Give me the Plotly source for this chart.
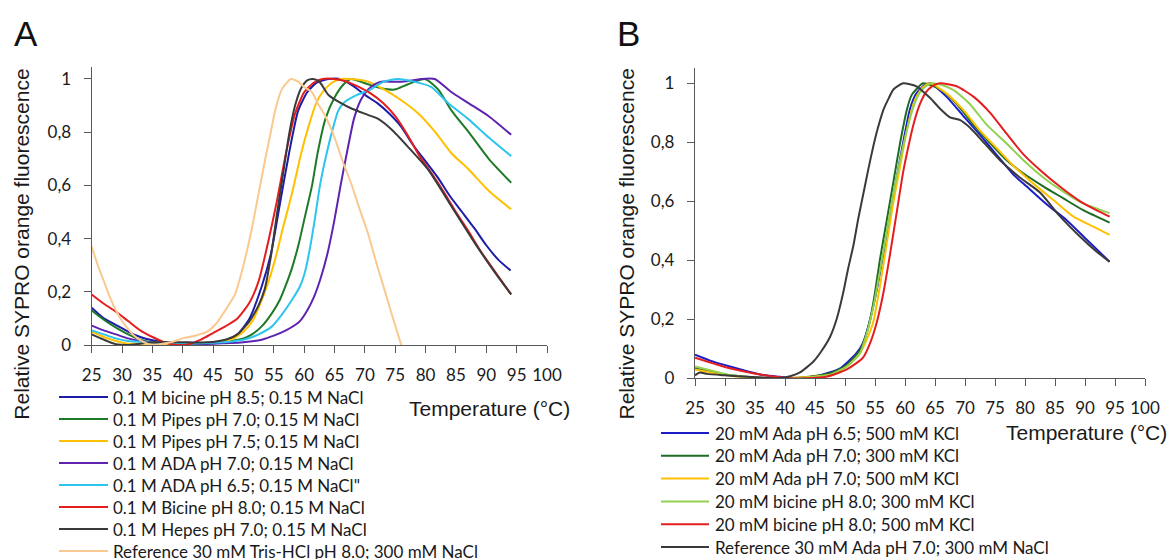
import plotly.graph_objects as go

# ---------------- Panel A data ----------------
a_names = [
    "0.1 M bicine pH 8.5; 0.15 M NaCl",
    "0.1 M Pipes pH 7.0; 0.15 M NaCl",
    "0.1 M Pipes pH 7.5; 0.15 M NaCl",
    "0.1 M ADA pH 7.0; 0.15 M NaCl",
    "0.1 M ADA pH 6.5; 0.15 M NaCl\"",
    "0.1 M Bicine pH 8.0; 0.15 M NaCl",
    "0.1 M Hepes pH 7.0; 0.15 M NaCl",
    "Reference 30 mM Tris-HCl pH 8.0; 300 mM NaCl",
]
a_colors = ["#1C1CA8", "#1D7A26", "#FFC000", "#5E24B0", "#2CC5EE", "#E41E1E", "#3A3A3A", "#F9C98F"]

a_bicine85_t = [25, 27, 29, 31, 33, 35, 38, 41, 44, 47, 49, 51, 53, 54.5, 56, 57.5, 59, 60.5, 62, 64, 66, 68, 70, 72, 74, 76, 78, 80, 82, 84, 86, 88, 90, 92, 94]
a_bicine85_v = [0.14, 0.10, 0.075, 0.05, 0.03, 0.018, 0.008, 0.005, 0.005, 0.015, 0.04, 0.10, 0.22, 0.34, 0.53, 0.72, 0.88, 0.95, 0.985, 1.0, 1.0, 0.975, 0.94, 0.91, 0.87, 0.82, 0.75, 0.69, 0.63, 0.56, 0.50, 0.44, 0.375, 0.32, 0.28]

a_pipes70_t = [25, 27, 29, 31, 33, 35, 38, 42, 46, 50, 51.4, 53, 54.7, 56, 56.9, 58, 59.1, 60.2, 61.3, 62.2, 63.5, 65, 66.5, 67.7, 70.5, 72.7, 74.9, 77.1, 79.9, 82.1, 84.3, 87.1, 90.4, 94.1]
a_pipes70_v = [0.13, 0.095, 0.065, 0.04, 0.02, 0.01, 0.005, 0.005, 0.01, 0.025, 0.04, 0.07, 0.12, 0.17, 0.22, 0.29, 0.38, 0.49, 0.60, 0.72, 0.85, 0.93, 0.98, 1.0, 0.98, 0.965, 0.96, 0.98, 1.0, 0.96, 0.88, 0.80, 0.70, 0.61]

a_pipes75_t = [25, 27, 29, 31, 35, 40, 45, 48, 50, 51.5, 52.5, 54, 55.2, 56.5, 58, 59.5, 60.7, 62, 63, 64.5, 66, 67.7, 70.5, 73.2, 76, 78.8, 81.6, 84.3, 87.1, 90.4, 94.1]
a_pipes75_v = [0.05, 0.03, 0.015, 0.005, 0.005, 0.005, 0.01, 0.02, 0.05, 0.09, 0.14, 0.23, 0.32, 0.44, 0.57, 0.72, 0.82, 0.91, 0.95, 0.985, 1.0, 1.0, 0.99, 0.96, 0.92, 0.87, 0.80, 0.72, 0.66, 0.58, 0.51]

a_ada70_t = [25, 27, 29, 31, 33, 35, 40, 45, 50, 53, 55, 57, 58.5, 59.3, 60.5, 61.6, 62.7, 63.8, 64.9, 66, 67.1, 68.2, 69.3, 70.5, 71.6, 72.7, 74, 76, 78, 79.3, 81.5, 84.3, 87, 90.4, 94.1]
a_ada70_v = [0.073, 0.055, 0.04, 0.025, 0.015, 0.01, 0.005, 0.005, 0.01, 0.02, 0.035, 0.055, 0.075, 0.09, 0.13, 0.18, 0.25, 0.34, 0.46, 0.60, 0.73, 0.85, 0.92, 0.96, 0.98, 0.99, 0.99, 0.99, 0.995, 1.0, 1.0, 0.95, 0.91, 0.86, 0.79]

a_ada65_t = [25, 27, 29, 31, 35, 40, 45, 50, 52.5, 54.7, 56.5, 58, 59.3, 60.2, 61, 61.8, 62.6, 63.7, 64.8, 65.6, 66.5, 68.7, 70.9, 73.1, 75.4, 78.1, 80.9, 83.7, 87, 90.4, 94.1]
a_ada65_v = [0.055, 0.04, 0.025, 0.015, 0.01, 0.005, 0.008, 0.02, 0.04, 0.07, 0.12, 0.17, 0.22, 0.28, 0.37, 0.48, 0.60, 0.72, 0.82, 0.88, 0.91, 0.94, 0.96, 0.99, 1.0, 0.99, 0.97, 0.91, 0.85, 0.78, 0.71]

a_bicine80_t = [25, 27, 29, 31, 33, 35, 37, 39, 41, 43, 45, 47, 49, 51, 52.5, 54, 55.5, 57, 58.5, 60, 61.5, 63, 65, 67, 69, 71, 73, 75, 77, 79, 81, 83, 85, 87, 89, 91, 93, 94.1]
a_bicine80_v = [0.19, 0.155, 0.125, 0.09, 0.055, 0.03, 0.01, 0.0, 0.003, 0.02, 0.045, 0.07, 0.10, 0.16, 0.24, 0.38, 0.54, 0.72, 0.87, 0.95, 0.985, 1.0, 1.0, 0.99, 0.97, 0.945, 0.91, 0.86, 0.79, 0.71, 0.645, 0.575, 0.50, 0.43, 0.355, 0.29, 0.225, 0.19]

a_hepes70_t = [25, 27, 29, 31, 33, 35, 38, 41, 44, 47, 49, 51, 52.5, 53.5, 54.5, 55.5, 56.5, 57.5, 58.5, 59.5, 60.5, 61.5, 62.5, 64, 66, 67.7, 70.5, 72.2, 74.4, 77.1, 80.4, 84.3, 88.2, 91.5, 94.1]
a_hepes70_v = [0.04, 0.02, 0.003, 0.0, 0.005, 0.01, 0.01, 0.01, 0.01, 0.02, 0.04, 0.09, 0.15, 0.21, 0.33, 0.49, 0.64, 0.79, 0.90, 0.965, 0.995, 1.0, 0.99, 0.94, 0.91, 0.89, 0.865, 0.85, 0.81, 0.745, 0.66, 0.52, 0.38, 0.27, 0.19]

a_ref_t = [25, 26, 27, 28, 29, 30, 31, 32, 33, 34, 35, 36, 38, 40, 42, 44, 45.5, 47, 48.6, 50, 51.4, 52.5, 53.6, 54.5, 55.2, 56.3, 57.8, 59, 60, 61.3, 62.2, 63.5, 65, 66.5, 67.7, 69, 70.5, 72, 73.2, 74.5, 76]
a_ref_v = [0.37, 0.30, 0.24, 0.18, 0.13, 0.09, 0.06, 0.035, 0.018, 0.006, 0.0, 0.002, 0.01, 0.025, 0.035, 0.05, 0.08, 0.13, 0.19, 0.30, 0.44, 0.57, 0.70, 0.80, 0.88, 0.96, 1.0, 0.99, 0.97, 0.95, 0.91, 0.86, 0.78, 0.68, 0.61, 0.52, 0.42, 0.30, 0.21, 0.11, 0.0]

a_series = [
    (a_bicine85_t, a_bicine85_v),
    (a_pipes70_t, a_pipes70_v),
    (a_pipes75_t, a_pipes75_v),
    (a_ada70_t, a_ada70_v),
    (a_ada65_t, a_ada65_v),
    (a_bicine80_t, a_bicine80_v),
    (a_hepes70_t, a_hepes70_v),
    (a_ref_t, a_ref_v),
]

# ---------------- Panel B data ----------------
b_names = [
    "20 mM Ada pH 6.5; 500 mM KCl",
    "20 mM Ada pH 7.0; 300 mM KCl",
    "20 mM Ada pH 7.0; 500 mM KCl",
    "20 mM bicine pH 8.0; 300 mM KCl",
    "20 mM bicine pH 8.0; 500 mM KCl",
    "Reference 30 mM Ada pH 7.0; 300 mM NaCl",
]
b_colors = ["#1C1CC8", "#1E6B24", "#FFC000", "#92D050", "#E41E1E", "#3A3A3A"]

b_ada65_500_t = [25, 27.5, 30.8, 33.5, 36.4, 39.2, 42, 45.8, 49.2, 51.9, 53, 54.2, 55.3, 56.4, 57.5, 58.6, 59.7, 60.8, 61.7, 62.5, 63.3, 64.2, 66.9, 69.7, 72.5, 75.3, 78.1, 80.3, 83.6, 86.9, 90.3, 94.1]
b_ada65_500_v = [0.08, 0.06, 0.04, 0.025, 0.011, 0.005, 0.0, 0.01, 0.034, 0.085, 0.12, 0.20, 0.30, 0.42, 0.55, 0.68, 0.80, 0.91, 0.96, 0.98, 0.995, 1.0, 0.955, 0.89, 0.825, 0.757, 0.69, 0.65, 0.59, 0.537, 0.47, 0.395]

b_ada70_300_t = [25, 28, 31, 35, 40, 44, 47.5, 50.3, 52.5, 53.4, 54.2, 55, 55.8, 57, 58.1, 59.2, 60.3, 61.1, 61.9, 63, 65.8, 68.6, 71.4, 74.2, 76.9, 79.7, 83.1, 86.4, 89.7, 94.1]
b_ada70_300_v = [0.034, 0.02, 0.01, 0.003, 0.0, 0.005, 0.017, 0.045, 0.096, 0.14, 0.20, 0.29, 0.40, 0.54, 0.67, 0.80, 0.91, 0.96, 0.98, 1.0, 0.98, 0.93, 0.86, 0.797, 0.74, 0.695, 0.65, 0.61, 0.57, 0.528]

b_ada70_500_t = [25, 28, 31, 35, 40, 44, 47.5, 50.3, 52.5, 53.6, 54.7, 55.8, 56.9, 58, 59.2, 60.3, 61.4, 62.5, 63.5, 64.3, 66.9, 69.7, 72.5, 75.3, 78.1, 81.4, 84.7, 88.1, 91.4, 94.1]
b_ada70_500_v = [0.03, 0.018, 0.008, 0.003, 0.0, 0.004, 0.012, 0.04, 0.085, 0.13, 0.19, 0.31, 0.45, 0.59, 0.72, 0.84, 0.93, 0.975, 0.995, 1.0, 0.966, 0.91, 0.84, 0.78, 0.72, 0.66, 0.605, 0.548, 0.514, 0.486]

b_bic80_300_t = [25, 28, 30.8, 35, 40, 44, 47.5, 50.3, 52.5, 53.6, 54.7, 55.8, 56.9, 58, 59.2, 60.3, 61.4, 62.5, 63.5, 64.5, 66, 68.1, 70.8, 73.6, 76.9, 79.7, 83.1, 86.4, 89.7, 94.1]
b_bic80_300_v = [0.04, 0.025, 0.011, 0.003, 0.0, 0.003, 0.011, 0.04, 0.085, 0.15, 0.24, 0.36, 0.49, 0.62, 0.74, 0.84, 0.92, 0.97, 0.99, 1.0, 0.995, 0.977, 0.93, 0.86, 0.797, 0.74, 0.68, 0.633, 0.593, 0.56]

b_bic80_500_t = [25, 30.8, 36.4, 40.8, 43.6, 46.9, 50.3, 53, 54.2, 55.3, 56.4, 57.5, 58.6, 59.7, 60.5, 61.4, 62.5, 63.5, 64.5, 65.8, 68.6, 71.4, 74.2, 76.9, 79.7, 82.5, 85.8, 89.2, 91.9, 94.1]
b_bic80_500_v = [0.07, 0.034, 0.011, 0.0, 0.0, 0.005, 0.03, 0.07, 0.12, 0.19, 0.29, 0.42, 0.56, 0.70, 0.78, 0.86, 0.93, 0.97, 0.99, 1.0, 0.99, 0.955, 0.90, 0.83, 0.76, 0.706, 0.65, 0.60, 0.57, 0.548]

b_ref_t = [25, 25.8, 27, 30, 33, 36, 39.2, 41, 42.5, 44.7, 46, 47.5, 48.6, 49.7, 50.5, 51.4, 52.2, 53.1, 53.9, 54.7, 55.5, 56.4, 57.3, 58.1, 59.7, 61.9, 64.2, 65.8, 67.5, 69.2, 70.8, 73.1, 75.8, 79.2, 82.5, 85.8, 89.2, 91.9, 94.1]
b_ref_v = [0.01, 0.02, 0.015, 0.01, 0.006, 0.003, 0.0, 0.008, 0.02, 0.056, 0.09, 0.14, 0.20, 0.29, 0.37, 0.45, 0.54, 0.63, 0.71, 0.785, 0.85, 0.91, 0.95, 0.98, 1.0, 0.99, 0.95, 0.915, 0.885, 0.875, 0.85, 0.80, 0.74, 0.68, 0.63, 0.55, 0.48, 0.43, 0.395]

b_series = [
    (b_ada65_500_t, b_ada65_500_v),
    (b_ada70_300_t, b_ada70_300_v),
    (b_ada70_500_t, b_ada70_500_v),
    (b_bic80_300_t, b_bic80_300_v),
    (b_bic80_500_t, b_bic80_500_v),
    (b_ref_t, b_ref_v),
]

x_ticks = list(range(25, 101, 5))
x_ticktext = [str(v) for v in x_ticks]
y_ticks = [0, 0.2, 0.4, 0.6, 0.8, 1.0]
y_ticktext = ["0", "0,2", "0,4", "0,6", "0,8", "1"]

x_title = "Temperature (°C)"
y_title = "Relative SYPRO orange fluorescence"

# ---------------- Figure ----------------
W, H = 1172, 559
TICK_FONT = dict(family="Lato, Calibri, sans-serif", size=17, color="#1a1a1a")
LEG_FONT = dict(family="Lato, Calibri, sans-serif", size=17, color="#1a1a1a")
TITLE_FONT = dict(family="Liberation Sans, Arial, sans-serif", size=21, color="#1a1a1a")
AXC = "#595959"

fig = go.Figure()

for (t, v), name, col in zip(a_series, a_names, a_colors):
    fig.add_trace(go.Scatter(x=t, y=v, mode="lines", name=name, showlegend=False,
                             line=dict(color=col, width=2, shape="spline", smoothing=0.6),
                             xaxis="x", yaxis="y"))
for (t, v), name, col in zip(b_series, b_names, b_colors):
    fig.add_trace(go.Scatter(x=t, y=v, mode="lines", name=name, showlegend=False,
                             line=dict(color=col, width=2, shape="spline", smoothing=0.6),
                             xaxis="x2", yaxis="y2"))


def px_x(p):
    return p / W


def px_y(p):
    return (H - p) / H


common_x = dict(range=[25, 100], tickvals=x_ticks, ticktext=x_ticktext, ticks="outside",
                ticklen=7, tickcolor=AXC, tickwidth=1.2, showline=True, linecolor=AXC,
                linewidth=1.3, showgrid=False, zeroline=False, tickfont=TICK_FONT,
                ticklabelstandoff=7, automargin=False)
common_y = dict(tickvals=y_ticks, ticktext=y_ticktext, ticks="outside", ticklen=7,
                tickcolor=AXC, tickwidth=1.2, showline=True, linecolor=AXC, linewidth=1.3,
                showgrid=False, zeroline=False, tickfont=TICK_FONT, ticklabelstandoff=9,
                automargin=False)

fig.update_layout(
    width=W, height=H, margin=dict(l=0, r=0, t=0, b=0, autoexpand=False),
    paper_bgcolor="white", plot_bgcolor="white", showlegend=False,
    xaxis=dict(domain=[px_x(91.7), px_x(547)], anchor="y", **common_x),
    yaxis=dict(domain=[px_y(345), px_y(67)], range=[0, 1.045], anchor="x", **common_y),
    xaxis2=dict(domain=[px_x(695), px_x(1145)], anchor="y2", **common_x),
    yaxis2=dict(domain=[px_y(378.3), px_y(68.3)], range=[0, 1.051], anchor="x2", **common_y),
)

annotations = []
shapes = []

# panel letters
for letter, cx in (("A", 26), ("B", 628)):
    annotations.append(dict(text=letter, x=px_x(cx), y=px_y(34), xref="paper", yref="paper",
                            showarrow=False, xanchor="center", yanchor="middle",
                            font=dict(family="Liberation Sans, Arial, sans-serif", size=35, color="#111")))
# axis titles
for cx in (21.7, 626.5):
    annotations.append(dict(text=y_title, x=px_x(cx), y=px_y(244), xref="paper", yref="paper",
                            showarrow=False, textangle=-90, xanchor="center", yanchor="middle",
                            font=TITLE_FONT))
for cx, cy in ((489, 408), (1086, 432)):
    annotations.append(dict(text=x_title, x=px_x(cx), y=px_y(cy), xref="paper", yref="paper",
                            showarrow=False, xanchor="center", yanchor="middle", font=TITLE_FONT))

# legends (drawn as line samples + labels)
def add_legend(names, colors, x0, x1, xt, y0, step):
    for i, (name, col) in enumerate(zip(names, colors)):
        yy = y0 + i * step
        shapes.append(dict(type="line", xref="paper", yref="paper",
                           x0=px_x(x0), x1=px_x(x1), y0=px_y(yy), y1=px_y(yy),
                           line=dict(color=col, width=2)))
        annotations.append(dict(text=name, x=px_x(xt), y=px_y(yy), xref="paper", yref="paper",
                                showarrow=False, xanchor="left", yanchor="middle", font=LEG_FONT))


add_legend(a_names, a_colors, 59, 108, 111, 397, 22.0)
add_legend(b_names, b_colors, 661, 709, 713, 433, 22.8)

fig.update_layout(annotations=annotations, shapes=shapes)
fig.write_html(
    "out.html",
    config={"displayModeBar": False},
    post_script="document.body.style.margin='0';document.body.style.overflow='hidden';",
)
